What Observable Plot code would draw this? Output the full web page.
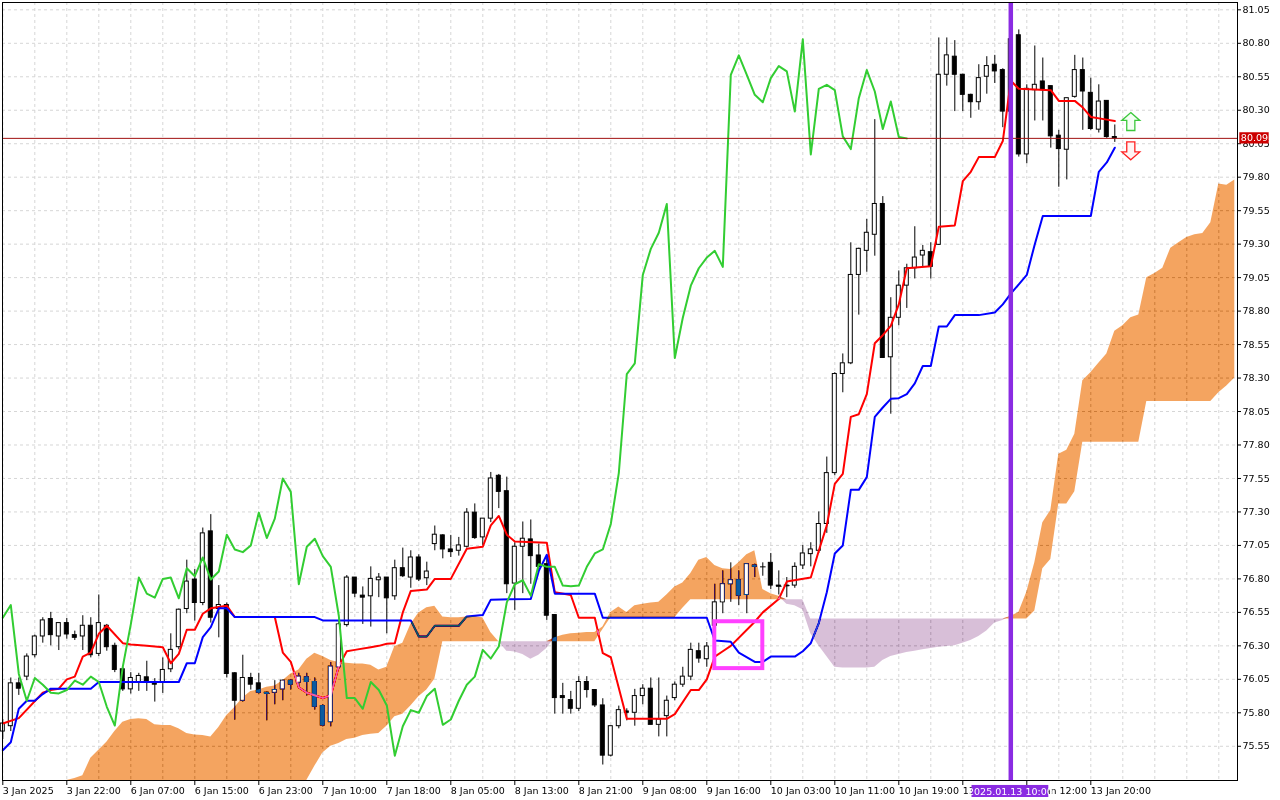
<!DOCTYPE html>
<html><head><meta charset="utf-8">
<script src="https://cdn.jsdelivr.net/npm/d3@7"></script>
<script src="https://cdn.jsdelivr.net/npm/@observablehq/plot@0.6"></script>
<style>html,body{margin:0;padding:0;background:#fff;}</style>
</head><body><div id="chart"></div>
<script>
// ---- Candles (hourly bars, index 0 = 3 Jan 2025 14:00) ----
const opens = [75.66,75.70,76.02,76.07,76.23,76.37,76.50,76.37,76.47,76.38,
76.37,76.45,76.24,76.45,76.30,76.125,75.975,76.03,76.065,76.03,
76.025,76.125,76.29,76.575,76.795,76.62,77.155,76.575,76.605,76.095,
75.89,76.06,76.02,75.95,75.95,75.975,76.04,76.025,76.065,76.03,
75.85,75.73,76.14,76.455,76.81,76.675,76.67,76.79,76.81,76.67,
76.88,76.81,76.96,76.805,77.06,77.125,77.02,77.01,77.04,77.295,
77.11,77.25,77.57,77.455,76.765,77.04,77.095,76.975,76.91,76.53,
75.925,75.895,75.83,76.03,75.97,75.855,75.48,75.70,75.81,75.80,
75.925,75.98,75.71,75.775,75.91,76.01,76.07,76.26,76.20,76.45,
76.625,76.76,76.79,76.68,76.90,76.89,76.92,76.75,76.745,76.75,
76.90,76.985,77.01,77.21,77.59,78.33,78.41,79.07,79.25,79.37,
79.60,78.455,78.75,78.99,79.12,79.215,79.24,79.295,80.565,80.70,
80.565,80.415,80.36,80.55,80.64,80.60,80.29,80.86,79.97,80.45,
80.515,80.48,80.11,80.005,80.40,80.60,80.43,80.155,80.37,80.10];
const highs = [75.75,76.06,76.06,76.24,76.38,76.51,76.55,76.47,76.505,76.41,
76.525,76.51,76.68,76.46,76.32,76.14,76.10,76.095,76.185,76.055,
76.21,76.39,76.575,76.94,76.87,77.18,77.28,76.75,76.62,76.10,
76.23,76.095,76.095,75.955,76.04,76.045,76.045,76.095,76.095,76.06,
75.86,76.175,76.49,76.825,76.81,76.74,76.89,76.84,76.81,76.94,
77.03,77.01,76.98,76.925,77.195,77.13,77.125,77.11,77.325,77.36,
77.25,77.595,77.58,77.56,77.07,77.225,77.24,77.06,76.975,76.53,
76.02,75.96,76.07,76.07,75.97,75.905,75.70,75.85,75.83,75.975,
76.01,76.06,76.06,75.925,76.03,76.14,76.32,76.32,76.325,76.76,
76.86,76.92,76.86,76.91,76.91,76.92,76.99,76.86,76.81,76.92,
77.05,77.07,77.30,77.71,78.34,78.48,79.31,79.27,79.485,80.23,
79.655,78.90,79.10,79.15,79.43,79.29,79.31,80.84,80.84,80.82,
80.57,80.42,80.64,80.70,80.71,80.61,80.88,80.90,80.49,80.78,
80.69,80.48,80.15,80.39,80.71,80.69,80.54,80.49,80.37,80.19];
const lows = [75.60,75.66,75.93,76.04,76.21,76.32,76.30,76.265,76.35,76.34,
76.265,76.21,76.22,76.26,76.10,75.96,75.94,75.96,75.96,75.88,
75.945,76.10,76.27,76.54,76.485,76.60,76.47,76.36,76.06,75.745,
75.88,75.97,75.94,75.74,75.86,75.89,75.97,75.98,75.925,75.82,
75.695,75.695,76.125,76.44,76.66,76.46,76.44,76.66,76.39,76.64,
76.81,76.73,76.78,76.75,77.01,76.95,76.96,76.97,77.03,77.095,
77.05,77.22,77.325,76.69,76.565,76.69,76.76,76.86,76.49,75.79,
75.79,75.79,75.81,75.91,75.84,75.41,75.47,75.68,75.74,75.70,
75.86,75.71,75.62,75.62,75.89,75.99,76.04,76.17,76.14,76.29,
76.54,76.625,76.60,76.54,76.81,76.82,76.72,76.68,76.66,76.73,
76.87,76.89,76.99,77.14,77.57,78.19,78.40,78.77,79.09,79.21,
78.45,78.03,78.69,78.82,79.04,79.13,79.04,79.29,80.48,80.29,
80.29,80.24,80.30,80.42,80.50,80.17,80.25,79.95,79.90,80.22,
80.22,80.017,79.725,79.78,80.39,80.15,80.15,80.13,80.09,80.06];
const closes = [75.72,76.02,75.98,76.22,76.37,76.49,76.38,76.47,76.385,76.36,
76.45,76.23,76.47,76.29,76.12,75.975,76.06,76.075,76.035,76.01,
76.12,76.27,76.57,76.78,76.62,77.14,76.51,76.605,76.09,75.89,
76.06,76.01,75.95,75.945,75.97,76.04,76.01,76.07,76.03,75.845,
75.705,76.145,76.46,76.81,76.69,76.66,76.80,76.81,76.655,76.88,
76.82,76.96,76.795,76.855,77.13,77.02,77.00,77.05,77.295,77.105,
77.25,77.55,77.45,76.76,77.04,77.10,76.97,76.89,76.525,75.91,
75.91,75.83,76.03,75.97,75.855,75.48,75.70,75.82,75.80,75.925,
75.98,75.71,75.75,75.89,76.01,76.07,76.27,76.205,76.295,76.625,
76.76,76.79,76.675,76.91,76.89,76.89,76.75,76.745,76.75,76.89,
76.99,77.02,77.21,77.59,78.33,78.41,79.07,79.265,79.385,79.60,
78.45,78.75,78.99,79.12,79.20,79.25,79.13,80.565,80.71,80.565,
80.415,80.36,80.54,80.63,80.59,80.29,80.83,79.97,80.46,80.49,
80.45,80.105,80.01,80.39,80.60,80.44,80.16,80.365,80.10,80.09];

// ---- Ichimoku lines: [bar index, price] ----
const tenkan = [[0,75.72],[2,75.76],[5,75.95],[6,75.97],[7,75.98],[8,76.05],[9,76.07],[10,76.22],[11,76.25],[12,76.39],[13,76.45],[15,76.32],[16,76.31],[18,76.30],[20,76.29],[21,76.17],[22,76.24],[23,76.42],[24,76.42],[25,76.54],[26,76.58],[28,76.60],[29,76.515],[34,76.515],[35,76.25],[36,76.18],[37,75.99],[38,75.95],[40,75.91],[41,75.93],[42,76.15],[43,76.26],[44,76.27],[46,76.29],[47,76.30],[48,76.315],[49,76.32],[50,76.55],[51,76.71],[53,76.72],[54,76.80],[56,76.80],[58,77.025],[60,77.04],[61,77.20],[62,77.27],[63,77.13],[64,77.08],[68,77.07],[69,76.70],[71,76.68],[72,76.51],[74,76.51],[75,76.245],[76,76.215],[78,75.755],[83,75.755],[84,75.79],[86,75.97],[87,75.97],[88,76.05],[89,76.22],[90,76.26],[91,76.30],[94,76.48],[95,76.55],[97,76.65],[98,76.78],[101,76.81],[102,77.01],[103,77.20],[104,77.51],[105,77.585],[106,78.01],[107,78.03],[108,78.18],[109,78.56],[110,78.62],[111,78.69],[112,78.85],[113,79.12],[116,79.135],[117,79.43],[119,79.44],[120,79.77],[121,79.84],[122,79.95],[124,79.95],[125,80.07],[126,80.52],[127,80.46],[131,80.45],[132,80.37],[134,80.37],[135,80.32],[136,80.25],[138,80.23],[139,80.22]];
const kijun = [[0,75.52],[1,75.58],[2,75.83],[3,75.89],[4,75.89],[5,75.94],[6,75.98],[11,75.98],[12,76.03],[22,76.03],[23,76.17],[24,76.17],[25,76.365],[26,76.44],[27,76.58],[28,76.58],[29,76.515],[39,76.515],[40,76.49],[51,76.49],[52,76.37],[53,76.37],[54,76.45],[57,76.45],[58,76.52],[60,76.53],[61,76.645],[66,76.65],[67,76.86],[68,76.98],[69,76.69],[74,76.69],[75,76.51],[88,76.51],[89,76.34],[91,76.33],[92,76.25],[94,76.18],[95,76.18],[96,76.22],[99,76.22],[100,76.26],[101,76.32],[102,76.47],[103,76.70],[104,76.99],[105,77.05],[106,77.465],[107,77.465],[108,77.56],[109,78.01],[110,78.08],[111,78.145],[112,78.15],[113,78.18],[114,78.26],[115,78.39],[116,78.39],[117,78.685],[118,78.685],[119,78.77],[122,78.77],[124,78.79],[125,78.85],[126,78.93],[127,79.00],[128,79.07],[129,79.30],[130,79.51],[136,79.51],[137,79.84],[138,79.91],[139,80.02]];
const chikouShift = 26; // lagging span: close plotted 26 bars back

// Senkou span A and B per bar index 0..154 (cloud)
const senkouA = [75.18,75.19,75.20,75.21,75.22,75.23,75.25,75.27,75.29,75.31,
75.33,75.46,75.52,75.58,75.66,75.73,75.75,75.755,75.75,75.71,
75.705,75.705,75.68,75.645,75.635,75.63,75.62,75.69,75.78,75.84,
75.91,75.96,75.97,75.99,76.00,76.04,76.09,76.12,76.20,76.245,
76.22,76.19,76.175,76.17,76.165,76.165,76.155,76.12,76.14,76.295,
76.32,76.46,76.545,76.585,76.595,76.515,76.51,76.51,76.515,76.515,
76.51,76.40,76.33,76.26,76.255,76.235,76.20,76.23,76.28,76.36,
76.38,76.39,76.395,76.40,76.40,76.44,76.55,76.59,76.55,76.60,
76.61,76.62,76.625,76.68,76.74,76.77,76.84,76.94,76.96,76.90,
76.875,76.87,76.92,76.98,77.01,76.72,76.69,76.67,76.61,76.60,
76.57,76.39,76.30,76.22,76.14,76.135,76.135,76.135,76.135,76.14,
76.19,76.22,76.235,76.25,76.26,76.27,76.28,76.29,76.295,76.30,
76.32,76.34,76.37,76.41,76.47,76.49,76.52,76.55,76.70,76.92,
77.22,77.31,77.73,77.76,77.88,78.28,78.34,78.41,78.48,78.65,
78.69,78.75,78.77,79.05,79.08,79.12,79.27,79.31,79.35,79.37,
79.38,79.46,79.75,79.74,79.78];
const senkouB = [75.00,75.00,75.00,75.00,75.00,75.00,75.00,75.00,75.00,75.00,
75.00,75.00,75.00,75.00,75.00,75.00,75.00,75.00,75.00,75.00,
75.00,75.00,75.00,75.00,75.00,75.00,75.00,75.00,75.00,75.00,
75.00,75.00,75.00,75.00,75.00,75.00,75.00,75.00,75.25,75.40,
75.50,75.55,75.57,75.60,75.61,75.63,75.64,75.645,75.70,75.77,
75.79,75.85,75.92,75.97,76.05,76.33,76.33,76.33,76.33,76.33,
76.33,76.33,76.33,76.33,76.33,76.33,76.33,76.33,76.33,76.33,
76.33,76.33,76.33,76.33,76.33,76.42,76.51,76.51,76.51,76.51,
76.51,76.51,76.51,76.51,76.51,76.58,76.645,76.645,76.645,76.645,
76.645,76.645,76.645,76.645,76.645,76.645,76.645,76.645,76.645,76.645,
76.645,76.50,76.50,76.50,76.50,76.50,76.50,76.50,76.50,76.50,
76.50,76.50,76.50,76.50,76.50,76.50,76.50,76.50,76.50,76.50,
76.50,76.50,76.50,76.50,76.50,76.50,76.50,76.50,76.50,76.56,
76.875,76.945,77.36,77.36,77.45,77.82,77.82,77.82,77.82,77.82,
77.82,77.82,77.82,78.125,78.125,78.125,78.125,78.125,78.125,78.125,
78.125,78.125,78.19,78.24,78.30];

// ---- Axis ticks and annotations ----
const xTickIdx = [0,8,16,24,32,40,48,56,64,72,80,88,96,104,112,120,128,136];
const xTickLabels = ["3 Jan 2025","3 Jan 22:00","6 Jan 07:00","6 Jan 15:00","6 Jan 23:00","7 Jan 10:00","7 Jan 18:00","8 Jan 05:00","8 Jan 13:00","8 Jan 21:00","9 Jan 08:00","9 Jan 16:00","10 Jan 03:00","10 Jan 11:00","10 Jan 19:00","13 Jan 04:00","13 Jan 12:00","13 Jan 20:00"];
const yTicks = [75.55,75.80,76.05,76.30,76.55,76.80,77.05,77.30,77.55,77.80,78.05,78.30,78.55,78.80,79.05,79.30,79.55,79.80,80.05,80.30,80.55,80.80,81.05];
const markerBar = 126; const markerLabel = "2025.01.13 10:00";
const boxBars = [89, 95]; const boxPrices = [76.13, 76.48];
const signalBar = 141; const signalUp = 80.216; const signalDown = 79.997;

// ---- build ----
const xDomain = [-0.0375, 154.3375];
const yDomain = [75.2944, 81.1047];
const bars = opens.map((o, i) => ({i, o, h: highs[i], l: lows[i], c: closes[i]}));
const clampY = v => Math.max(yDomain[0], Math.min(yDomain[1], v));
const cloud = senkouA.map((a, i) => ({i, a: clampY(a), b: clampY(senkouB[i])}));
const chikou = closes.slice(chikouShift).map((c, k) => ({i: k, c}));
const last = closes[closes.length - 1];
const bw = 0.25;
const isDoji = d => Math.abs(d.o - d.c) < 0.009;
const whiteInCloud = bars.filter(d => {
  if (d.c < d.o) return false;
  const cl = cloud[d.i]; const lo = Math.min(cl.a, cl.b), hi = Math.max(cl.a, cl.b);
  return hi - lo > 0.001 && Math.max(d.o, d.c) > lo && Math.min(d.o, d.c) < hi;
});
const gridIdx = d3.range(0, 155, 4);

// hollow arrow symbols (MT4 style)
function arrowSymbol(dir) {
  return {draw(ctx, size) {
    const r = Math.sqrt(size / Math.PI);
    const p = [[0,-1],[1,-0.12],[0.45,-0.12],[0.45,1],[-0.45,1],[-0.45,-0.12],[-1,-0.12]];
    p.forEach(([x, y], k) => { const X = x * r, Y = dir * y * r; k ? ctx.lineTo(X, Y) : ctx.moveTo(X, Y); });
    ctx.closePath();
  }};
}

const chart = Plot.plot({
  width: 1280, height: 800,
  marginLeft: 2, marginRight: 43, marginTop: 2, marginBottom: 20,
  x: {domain: xDomain, label: null},
  y: {domain: yDomain, label: null},
  style: {fontFamily: "DejaVu Sans", fontSize: "9.5px", background: "white", color: "black"},
  marks: [
    Plot.frame({fill: "white"}),
    Plot.ruleY(yTicks, {stroke: "#d6d6d6", strokeDasharray: "3,3"}),
    Plot.ruleX(gridIdx, {stroke: "#d6d6d6", strokeDasharray: "3,3"}),
    // candles
    Plot.ruleX(bars, {x: "i", y1: "l", y2: "h", stroke: "black", strokeWidth: 1}),
    Plot.rect(bars, {x1: d => d.i - bw, x2: d => d.i + bw, y1: d => Math.min(d.o, d.c), y2: d => Math.max(d.o, d.c),
      fill: d => d.c < d.o ? "black" : "white", stroke: "black", strokeWidth: 1}),
    Plot.link(bars.filter(isDoji), {x1: d => d.i - 0.35, x2: d => d.i + 0.35, y1: "c", y2: "c", stroke: "black", strokeWidth: 1}),
    // tenkan / kijun
    Plot.line(tenkan, {x: d => d[0], y: d => d[1], stroke: "#ff0000", strokeWidth: 2}),
    Plot.line(kijun, {x: d => d[0], y: d => d[1], stroke: "#0000ff", strokeWidth: 2}),
    // cloud drawn like MT4 (inverting blend over the chart)
    Plot.areaY(cloud, {x: "i", y1: "b", y2: d => Math.max(d.a, d.b), fill: "rgb(11,91,159)", mixBlendMode: "difference"}),
    Plot.areaY(cloud, {x: "i", y1: "a", y2: d => Math.max(d.a, d.b), fill: "rgb(39,64,39)", mixBlendMode: "difference"}),
    Plot.rect(whiteInCloud, {x1: d => d.i - bw, x2: d => d.i + bw, y1: d => Math.min(d.o, d.c), y2: d => Math.max(d.o, d.c), fill: "white", inset: 0.5}),
    // chikou
    Plot.line(chikou, {x: "i", y: "c", stroke: "#32cd32", strokeWidth: 2}),
    // current price line
    Plot.ruleY([last], {stroke: "#a01010", strokeWidth: 1}),
    // vertical marker
    Plot.ruleX([markerBar], {stroke: "#8a2be2", strokeWidth: 4.5}),
    // highlight box
    Plot.rect([0], {x1: () => boxBars[0], x2: () => boxBars[1], y1: () => boxPrices[0], y2: () => boxPrices[1], fill: "none", stroke: "#ff40ff", strokeWidth: 4}),
    // signal arrows
    Plot.dot([signalUp], {x: () => signalBar, y: d => d, symbol: arrowSymbol(1), r: 9, stroke: "#3cc83c", strokeWidth: 1.3, fill: "#f4fff4"}),
    Plot.dot([signalDown], {x: () => signalBar, y: d => d, symbol: arrowSymbol(-1), r: 9, stroke: "#ff2020", strokeWidth: 1.3, fill: "#fff4f4"}),
    Plot.frame({stroke: "black"}),
    // axes
    Plot.axisY(yTicks, {anchor: "right", tickSize: 3, tickPadding: 2, tickFormat: d => d.toFixed(2), fontSize: 9.5, label: null}),
    Plot.axisX(xTickIdx, {anchor: "bottom", tickSize: 5, tickPadding: 2, tickFormat: d => xTickLabels[xTickIdx.indexOf(d)], textAnchor: "start", fontSize: 9.5, label: null}),
    // price label
    Plot.rect([last], {x1: () => xDomain[1] + 0.29, x2: () => xDomain[1] + 3.96, y1: d => d - 0.042, y2: d => d + 0.042, fill: "#cc0000", clip: false}),
    Plot.text([last], {x: () => xDomain[1] + 2.12, y: d => d, text: d => d.toFixed(2), fill: "white", fontSize: 9.5, clip: false}),
    // marker time label
    Plot.rect([markerBar], {x1: d => d - 4.85, x2: d => d + 4.75, y1: () => yDomain[0] - 0.037, y2: () => yDomain[0] - 0.127, fill: "#8a2be2", clip: false}),
    Plot.text([markerBar], {x: d => d - 0.05, y: () => yDomain[0] - 0.082, text: () => markerLabel, fill: "white", fontSize: 9.5, clip: false})
  ]
});
document.getElementById("chart").appendChild(chart);
</script>
</body></html>
